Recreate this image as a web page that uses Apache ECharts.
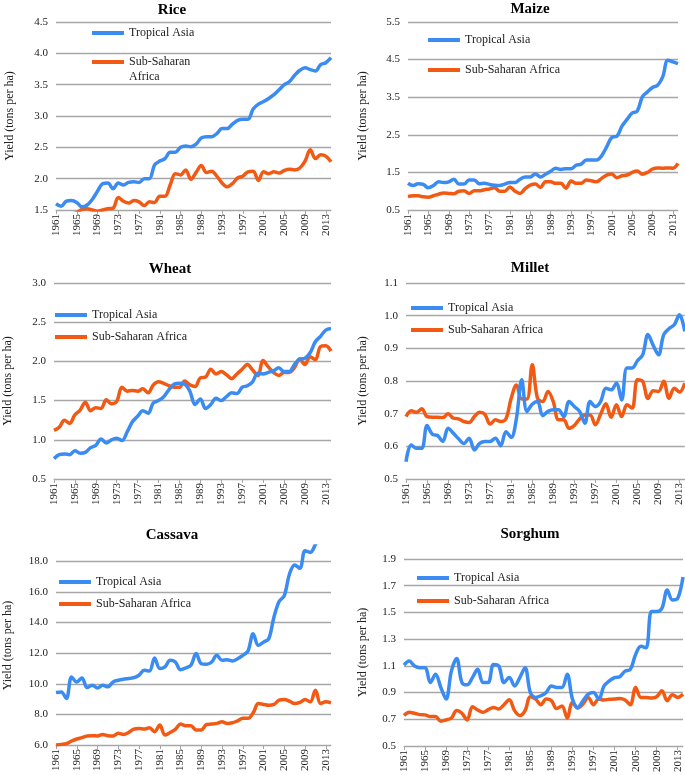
<!DOCTYPE html>
<html>
<head>
<meta charset="utf-8">
<script src="https://cdn.jsdelivr.net/npm/echarts@6/dist/echarts.min.js"></script>
<style>
html,body{margin:0;padding:0;background:#fff;}
#chart{width:685px;height:775px;}
</style>
</head>
<body>
<div id="chart"></div>
<script>
const years = ['1961','1962','1963','1964','1965','1966','1967','1968','1969','1970','1971','1972','1973','1974','1975','1976','1977','1978','1979','1980','1981','1982','1983','1984','1985','1986','1987','1988','1989','1990','1991','1992','1993','1994','1995','1996','1997','1998','1999','2000','2001','2002','2003','2004','2005','2006','2007','2008','2009','2010','2011','2012','2013','2014'];
const seriesNames = ['Tropical Asia', 'Sub-Saharan Africa'];
const cropTitles = ['Rice', 'Maize', 'Wheat', 'Millet', 'Cassava', 'Sorghum'];
const yAxisTitle = 'Yield (tons per ha)';

const riceAsia = [1.60,1.56,1.64,1.65,1.62,1.55,1.58,1.67,1.80,1.92, 1.93,1.84,1.93,1.90,1.94,1.95,1.94,2.00,2.00,2.22, 2.28,2.32,2.42,2.42,2.50,2.52,2.51,2.55,2.65,2.67, 2.67,2.72,2.80,2.80,2.87,2.93,2.95,2.95,3.11,3.19, 3.23,3.28,3.34,3.42,3.50,3.55,3.65,3.73,3.77,3.74, 3.72,3.82,3.85,3.93];
const riceSSA = [1.38,1.40,1.42,1.43,1.46,1.51,1.52,1.50,1.48,1.50, 1.52,1.53,1.70,1.64,1.61,1.65,1.63,1.57,1.63,1.62, 1.72,1.72,1.90,2.08,2.06,2.14,1.99,2.10,2.21,2.10, 2.12,2.04,1.93,1.87,1.92,2.01,2.04,2.11,2.12,1.97, 2.11,2.08,2.11,2.09,2.13,2.15,2.14,2.17,2.28,2.46, 2.32,2.38,2.36,2.27];

const maizeAsia = [1.21,1.15,1.20,1.18,1.09,1.15,1.25,1.23,1.25,1.32, 1.19,1.19,1.30,1.30,1.20,1.21,1.18,1.16,1.15,1.19, 1.23,1.23,1.32,1.38,1.38,1.46,1.38,1.45,1.53,1.61, 1.58,1.60,1.60,1.69,1.72,1.83,1.83,1.83,1.94,2.18, 2.43,2.46,2.73,2.91,3.08,3.13,3.51,3.64,3.76,3.82, 4.04,4.48,4.44,4.39];
const maizeSSA = [0.86,0.88,0.88,0.85,0.84,0.88,0.92,0.95,0.94,0.93, 1.00,1.01,0.94,1.01,1.01,1.04,1.06,1.09,1.00,1.00, 1.11,1.00,0.94,1.07,1.16,1.19,1.10,1.25,1.25,1.21, 1.21,1.08,1.27,1.21,1.21,1.30,1.28,1.25,1.34,1.43, 1.46,1.36,1.41,1.43,1.50,1.54,1.45,1.50,1.59,1.62, 1.61,1.62,1.61,1.74];

const wheatAsia = [0.76,0.81,0.82,0.81,0.86,0.83,0.84,0.90,0.93,1.01, 0.96,1.00,1.02,0.99,1.10,1.23,1.30,1.37,1.34,1.47, 1.50,1.55,1.64,1.71,1.72,1.71,1.62,1.45,1.52,1.40, 1.45,1.53,1.50,1.55,1.60,1.59,1.67,1.69,1.74,1.85, 1.84,1.86,1.88,1.92,1.87,1.87,1.96,2.03,2.04,2.11, 2.25,2.32,2.40,2.42];
const wheatSSA = [1.12,1.16,1.25,1.21,1.32,1.38,1.48,1.37,1.41,1.40, 1.51,1.46,1.49,1.67,1.62,1.63,1.62,1.65,1.60,1.70, 1.74,1.72,1.69,1.67,1.67,1.75,1.70,1.68,1.79,1.80, 1.90,1.84,1.87,1.83,1.78,1.84,1.90,1.96,1.89,1.82, 2.01,1.93,1.86,1.82,1.86,1.86,1.92,2.03,1.96,2.06, 2.02,2.19,2.20,2.13];

const milletAsia = [0.553,0.604,0.594,0.594,0.664,0.637,0.633,0.615,0.655,0.640, 0.623,0.609,0.625,0.589,0.609,0.615,0.615,0.625,0.602,0.645, 0.627,0.686,0.804,0.707,0.729,0.737,0.694,0.707,0.712,0.712, 0.691,0.737,0.722,0.707,0.671,0.737,0.722,0.737,0.778,0.773, 0.793,0.742,0.840,0.840,0.862,0.880,0.942,0.909,0.880,0.942, 0.960,0.972,1.003,0.952];
const milletSSA = [0.691,0.709,0.704,0.715,0.691,0.689,0.689,0.688,0.700,0.686, 0.684,0.676,0.673,0.691,0.704,0.698,0.668,0.681,0.676,0.684, 0.747,0.788,0.745,0.745,0.850,0.747,0.737,0.768,0.737,0.681, 0.681,0.655,0.664,0.684,0.696,0.696,0.666,0.698,0.730,0.689, 0.727,0.691,0.727,0.717,0.804,0.799,0.747,0.770,0.768,0.799, 0.747,0.778,0.766,0.793];

const cassavaAsia = [9.43,9.47,9.04,10.45,10.12,10.38,9.75,9.90,9.73,9.90, 9.80,10.12,10.23,10.30,10.34,10.40,10.56,10.88,10.84,11.68, 10.99,11.10,11.53,11.42,10.92,11.03,11.21,11.97,11.31,11.27, 11.42,11.86,11.53,11.57,11.49,11.64,11.86,12.14,13.27,12.51, 12.72,12.94,14.35,15.37,15.76,17.17,17.76,17.54,18.69,18.58, 19.10,19.80,20.30,20.60];
const cassavaSSA = [6.00,6.04,6.09,6.26,6.39,6.48,6.59,6.61,6.59,6.69, 6.61,6.59,6.76,6.69,6.82,7.04,7.08,7.04,7.13,6.87, 7.30,6.65,6.82,7.02,7.37,7.26,7.26,6.98,6.98,7.34, 7.37,7.41,7.52,7.41,7.45,7.58,7.74,7.74,8.10,8.71, 8.65,8.60,8.65,8.93,8.97,8.86,8.71,8.78,8.97,8.82, 9.58,8.71,8.82,8.76];

const sorghumAsia = [1.106,1.136,1.099,1.086,1.086,0.975,1.037,0.938,0.851,1.061, 1.155,0.975,0.958,1.012,1.074,0.975,0.975,1.111,1.099,0.975, 1.012,0.950,1.012,1.086,0.901,0.864,0.876,0.901,0.950,0.938, 0.938,1.037,0.851,0.789,0.839,0.888,0.901,0.851,0.950,0.987, 1.012,1.019,1.061,1.074,1.185,1.247,1.235,1.507,1.507,1.531, 1.667,1.593,1.606,1.766];
const sorghumSSA = [0.728,0.752,0.745,0.735,0.733,0.720,0.720,0.686,0.695,0.710, 0.765,0.745,0.695,0.794,0.770,0.752,0.772,0.789,0.777,0.809, 0.846,0.765,0.728,0.765,0.869,0.851,0.809,0.851,0.840,0.780, 0.800,0.710,0.826,0.784,0.814,0.864,0.809,0.851,0.844,0.850, 0.851,0.856,0.844,0.809,0.938,0.864,0.864,0.859,0.869,0.913, 0.839,0.883,0.864,0.888];

const cropData = [[riceAsia, riceSSA],[maizeAsia, maizeSSA],[wheatAsia, wheatSSA],[milletAsia, milletSSA],[cassavaAsia, cassavaSSA],[sorghumAsia, sorghumSSA]];

// layout / style (not data)
const FONT = "'Liberation Serif','Times New Roman',serif";
const BLUE = '#3b8cf2';
const ORANGE = '#f25a14';
const GRIDC = '#a6a6a6';
const layout = [
  {grid:{left:56,top:22,width:275,height:188}, y:{min:1.5,max:4.5,interval:0.5}, tx:172, ty:3, nameX:10, lg:{left:92,c1:33,c2:62}, wrap:true},
  {grid:{left:408,top:22,width:270,height:188}, y:{min:0.5,max:5.5,interval:0.5,alt:true}, tx:530, ty:2, nameX:363, lg:{left:428,c1:40,c2:70}},
  {grid:{left:54,top:283,width:277,height:196}, y:{min:0.5,max:3.0,interval:0.5}, tx:170, ty:262, nameX:8, lg:{left:55,c1:315,c2:337}},
  {grid:{left:406,top:283,width:279,height:196}, y:{min:0.5,max:1.1,interval:0.1}, tx:530, ty:261, nameX:363, lg:{left:411,c1:308,c2:330}},
  {grid:{left:56,top:546,width:275,height:199}, y:{min:6,max:19,interval:2,hideMax:true}, tx:172, ty:528, nameX:8, lg:{left:59,c1:582,c2:604}},
  {grid:{left:404,top:559,width:279,height:189}, y:{min:0.5,max:1.9,interval:0.1,alt:true}, tx:530, ty:527, nameX:363, lg:{left:417,c1:578,c2:601}}
];

const option = {backgroundColor:'#fff', animation:false, title:[], grid:[], xAxis:[], yAxis:[], series:[], legend:[]};

layout.forEach((L, i) => {
  option.title.push({text: cropTitles[i], left: L.tx, top: L.ty, textAlign:'center', padding:0,
    textStyle:{fontFamily:FONT, fontSize:15, fontWeight:'bold', color:'#000'}});
  option.grid.push(Object.assign({containLabel:false}, L.grid));
  option.xAxis.push({type:'category', gridIndex:i, data:years, boundaryGap:false,
    axisLine:{lineStyle:{color:GRIDC, width:1}},
    axisTick:{show:true, interval:3, length:4, lineStyle:{color:GRIDC}},
    axisLabel:{interval:3, rotate:90, margin:4, fontFamily:FONT, fontSize:11, color:'#222'},
    splitLine:{show:false}});
  const yl = {type:'value', gridIndex:i, min:L.y.min, max:L.y.max, interval:L.y.interval,
    name: yAxisTitle, nameLocation:'middle', nameRotate:90, nameGap: L.grid.left - L.nameX - 6,
    nameTextStyle:{fontFamily:FONT, fontSize:12, color:'#222'},
    axisLine:{show:false}, axisTick:{show:false},
    axisLabel:{fontFamily:FONT, fontSize:11, color:'#222', margin:8, formatter: v => v.toFixed(1)},
    splitLine:{show:true, lineStyle:{color:GRIDC, width:1.3}}};
  if (L.y.hideMax) { yl.axisLabel.showMaxLabel = false; yl.splitLine.showMaxLine = false; }
  if (L.y.alt) {
    const startK = Math.round(L.y.min / L.y.interval);
    yl.splitLine.lineStyle.color = [GRIDC,'rgba(0,0,0,0)'];
    yl.axisLabel.formatter = v => { const k = Math.round(v / L.y.interval) - startK; return (k % 2 === 0) ? v.toFixed(1) : ''; };
  }
  option.yAxis.push(yl);
  const cols = [BLUE, ORANGE];
  seriesNames.forEach((nm, j) => {
    option.series.push({type:'line', name:nm, xAxisIndex:i, yAxisIndex:i, data:cropData[i][j],
      smooth:0.35, showSymbol:false, symbol:'none', clip:true,
      lineStyle:{color:cols[j], width:3.5}, itemStyle:{color:cols[j]}, z: j===0 ? 3 : 2});
    const c = j===0 ? L.lg.c1 : L.lg.c2;
    const lgd = {data:[{name:nm, icon:'rect', itemStyle:{color:cols[j]}}], orient:'vertical', left:L.lg.left, top:c-7, padding:0,
      itemWidth:32, itemHeight:4, selectedMode:false,
      textStyle:{fontFamily:FONT, fontSize:12, color:'#222', lineHeight:14}};
    if (L.wrap && j===1) {
      // wrapped label: first line aligned with the legend line
      lgd.formatter = () => ' \nSub-Saharan\nAfrica';
      lgd.textStyle = {fontFamily:FONT, fontSize:12, color:'#222', lineHeight:15};
      lgd.top = c - 22.5;
    }
    option.legend.push(lgd);
  });
});

const chart = echarts.init(document.getElementById('chart'), null, {renderer:'canvas'});
chart.setOption(option);
</script>
</body>
</html>
